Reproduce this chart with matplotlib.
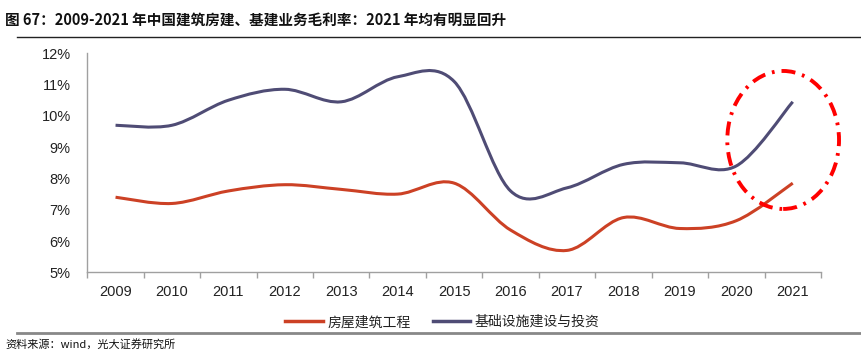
import matplotlib
matplotlib.use("Agg")
import matplotlib.pyplot as plt
from matplotlib.path import Path
from matplotlib.patches import PathPatch, Ellipse
from matplotlib.lines import Line2D
import numpy as np

plt.rcParams['font.family'] = ['Liberation Sans', 'Noto Sans CJK SC', 'DejaVu Sans']

years = ['2009', '2010', '2011', '2012', '2013', '2014', '2015',
         '2016', '2017', '2018', '2019', '2020', '2021']
housing = [7.4, 7.2, 7.6, 7.8, 7.65, 7.5, 7.85, 6.35, 5.7, 6.75, 6.4, 6.65, 7.85]
infra = [9.7, 9.7, 10.5, 10.85, 10.45, 11.25, 11.1, 7.6, 7.7, 8.45, 8.5, 8.4, 10.45]
yticks = [5, 6, 7, 8, 9, 10, 11, 12]
series_names = ['房屋建筑工程', '基础设施建设与投资']
title = '图 67：2009-2021 年中国建筑房建、基建业务毛利率：2021 年均有明显回升'
source = '资料来源：wind，光大证券研究所'

RED = '#CC4125'
BLUE = '#4F4C75'
CJK = ['Noto Sans CJK SC', 'DejaVu Sans']


def smooth_path(xs, ys):
    pts = np.column_stack([xs, ys]).astype(float)
    n = len(pts)
    verts = [pts[0]]
    codes = [Path.MOVETO]
    for i in range(n - 1):
        p0 = pts[i - 1] if i > 0 else pts[i]
        p1 = pts[i]
        p2 = pts[i + 1]
        p3 = pts[i + 2] if i + 2 < n else pts[i + 1]
        c1 = p1 + (p2 - p0) / 6.0
        c2 = p2 - (p3 - p1) / 6.0
        verts += [c1, c2, p2]
        codes += [Path.CURVE4] * 3
    return Path(verts, codes)


fig = plt.figure(figsize=(8.62, 3.64), dpi=100)
ax = fig.add_axes([0.1013, 0.2519, 0.8511, 0.6017])

x = np.arange(len(years))
for vals, col in [(housing, RED), (infra, BLUE)]:
    ax.add_patch(PathPatch(smooth_path(x, vals), facecolor='none',
                           edgecolor=col, lw=2.2, capstyle='butt'))

ax.set_xlim(-0.5, len(years) - 0.5)
ax.set_ylim(5, 12)
ax.set_yticks(yticks)
ax.set_yticklabels([f'{v}%' for v in yticks], fontsize=10.5, color='#222222')
ax.set_xticks(x)
ax.set_xticklabels(years, fontsize=10.5, color='#222222')
ax.set_xticks(np.arange(-0.5, len(years)), minor=True)
ax.tick_params(axis='x', which='major', length=0, pad=9)
ax.tick_params(axis='x', which='minor', length=4, color='#A0A0A0', width=1)
ax.tick_params(axis='y', length=0, pad=12)
for s in ['top', 'right']:
    ax.spines[s].set_visible(False)
for s in ['left', 'bottom']:
    ax.spines[s].set_color('#A0A0A0')
    ax.spines[s].set_linewidth(1)

ell = Ellipse((11.83, 9.23), 1.98, 4.41, fill=False, edgecolor='#FF0000',
              lw=2.8, linestyle=(0, (3.6, 1.8, 0.7, 1.8)), clip_on=False, zorder=5)
ax.add_patch(ell)

# Title, rules, legend, source
fig.text(0.006, 0.945, title, fontsize=10.5, fontweight='bold', family=CJK,
         ha='left', va='center', color='#111111')
fig.add_artist(Line2D([0.02, 1.0], [0.897, 0.897], color='#222222', lw=1))
fig.add_artist(Line2D([0.02, 1.0], [0.085, 0.085], color='#888888', lw=2))
fig.text(0.006, 0.055, source, fontsize=8, family=CJK, ha='left', va='center',
         color='#111111')

handles = [Line2D([], [], color=RED, lw=2.5), Line2D([], [], color=BLUE, lw=2.5)]
leg = fig.legend(handles, series_names, loc='center', bbox_to_anchor=(0.513, 0.115),
                 ncol=2, frameon=False, prop={'family': CJK, 'size': 10},
                 handlelength=2.7, handletextpad=0.3, columnspacing=1.6)
for t in leg.get_texts():
    t.set_color('#222222')

fig.savefig('out.png', dpi=100)
